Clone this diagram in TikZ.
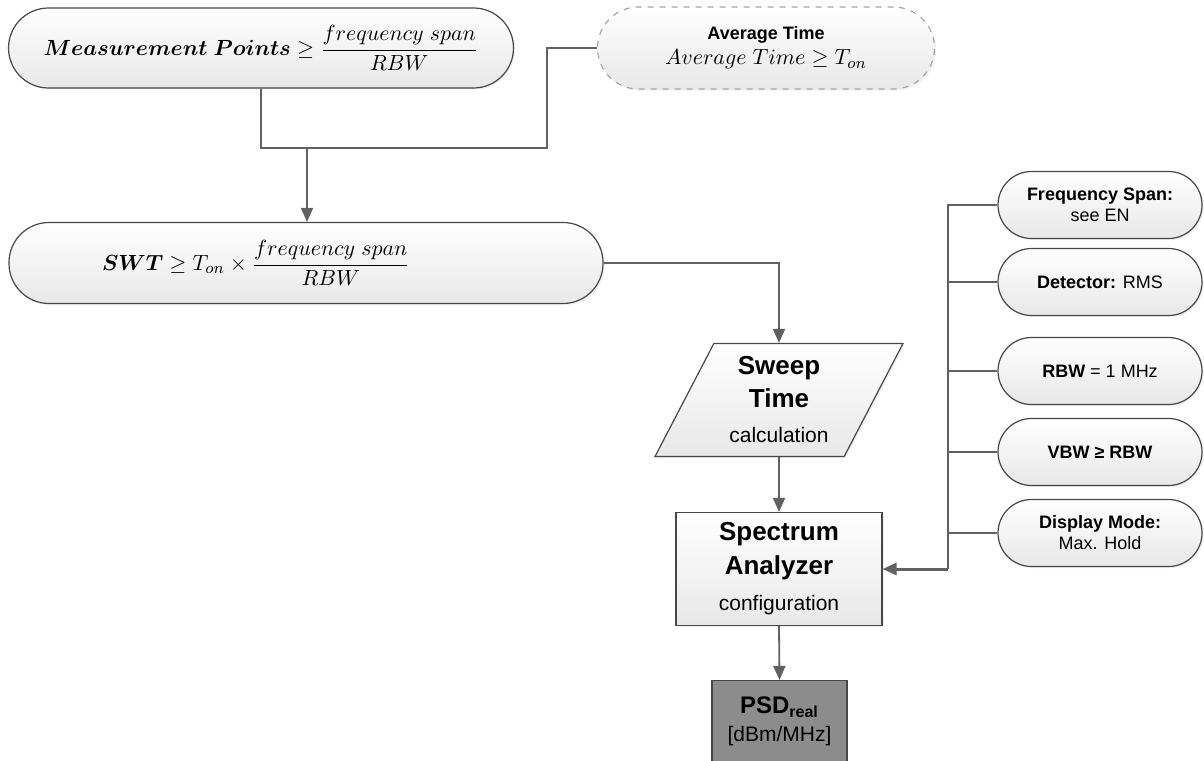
\documentclass[tikz,border=0pt]{standalone}
\usepackage{amsmath,bm}
\usepackage{fontspec}
\setmainfont{Liberation Sans}
\usetikzlibrary{arrows.meta,shapes.geometric,shadows}

\begin{document}
\begin{tikzpicture}[x=0.5pt,y=-0.5pt,
		box/.style={draw=black!72, line width=0.6pt, top color=white, bottom color=black!9,
			drop shadow={shadow xshift=0.8pt, shadow yshift=-0.8pt, opacity=0.12}},
		pill/.style={box, rectangle, rounded corners=#1, align=center},
		line/.style={draw=black!62, line width=0.9pt},
		arr/.style={line, -{Triangle[length=7pt,width=6pt]}},
		sidebox/.style={pill=16.75pt, minimum width=102pt, minimum height=33.5pt,
			font=\fontsize{9}{10.5}\selectfont},
		bigtext/.style={align=center, font=\fontsize{13}{16.5}\selectfont\bfseries}]
		\clip (0,0) rectangle (1204,760);
		% formulas on top
		\node[pill=20pt, minimum width=252.5pt, minimum height=40pt, font=\fontsize{11}{13}\selectfont] (mp) at (261,48)
		{$\bm{Measurement\ Points}\geq\dfrac{frequency\ span}{RBW}$};
		\node[pill=20.5pt, draw=black!35, dashed, minimum width=168.5pt, minimum height=41pt,
		font=\fontsize{9}{11.5}\selectfont] (avg) at (766,48)
		{\textbf{Average Time}\\[1pt] {\fontsize{11}{12}\selectfont $Average\ Time\geq T_{on}$}};
		\node[pill=20pt, minimum width=297pt, minimum height=40.5pt, font=\fontsize{11}{13}\selectfont] (swt) at (306,263)
		{$\bm{SWT}\geq T_{on}\times\dfrac{frequency\ span}{RBW}$\hspace*{50pt}};
		% main chain
		\node[box, trapezium, trapezium left angle=63, trapezium right angle=117, trapezium stretches=true,
		minimum width=124pt, minimum height=56.5pt, bigtext] (sweep) at (779,400)
		{Sweep\\Time\\[1pt]{\fontsize{10.5}{12}\selectfont\mdseries calculation}};
		\node[box, rectangle, minimum width=103pt, minimum height=56.5pt, bigtext,
		font=\fontsize{13}{17}\selectfont\bfseries] (sa) at (779,569)
		{Spectrum\\Analyzer\\[1pt]{\fontsize{10.5}{12}\selectfont\mdseries configuration}};
		\node[draw=black!72, line width=0.6pt, fill=black!45, minimum width=67.5pt, minimum height=41pt,
		anchor=north, align=center, font=\fontsize{12}{14}\selectfont] (psd) at (779.5,680)
		{\textbf{PSD\textsubscript{real}}\\[0pt]{\fontsize{10.5}{12}\selectfont [dBm/MHz]}};
		% settings
		\node[sidebox] (fs) at (1100,205) {\textbf{Frequency Span:}\\see EN};
		\node[sidebox] (det) at (1100,282) {\textbf{Detector:} RMS};
		\node[sidebox] (rbw) at (1100,371) {\textbf{RBW} = 1 MHz};
		\node[sidebox] (vbw) at (1100,452) {\textbf{VBW ≥ RBW}};
		\node[sidebox] (dm) at (1100,533) {\textbf{Display Mode:}\\Max. Hold};
		% connectors
		\coordinate (jl) at (547,148);
		\coordinate (jm) at (307,148);
		\coordinate (bus) at (948,569);
		\draw[line] (mp.south) |- (jl) |- (avg.west);
		\draw[arr] (jm) -- (jm |- swt.north);
		\draw[arr] (swt.east) -| (sa.north |- sweep.north);
		\draw[arr] (sa.north |- sweep.south) -- (sa.north);
		\draw[arr] (sa.south) -- (psd.north);
		\foreach \b in {fs,det,rbw,vbw,dm}
		\draw[line] (\b.west) -| (bus);
		\draw[arr, line width=1.5pt] (bus) -- (sa.east);
\end{tikzpicture}
\end{document}
